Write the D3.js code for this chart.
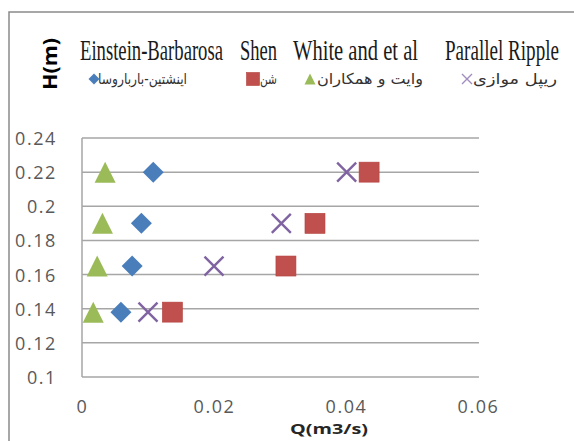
<!DOCTYPE html>
<html><head><meta charset="utf-8">
<script src="https://cdn.jsdelivr.net/npm/d3@7/dist/d3.min.js"></script>
<style>html,body{margin:0;padding:0;background:#fff;overflow:hidden}</style>
</head><body><svg id="c" width="574" height="441"></svg>
<script>
const H = [0.22, 0.19, 0.165, 0.138];
const einstein = [0.0108, 0.0090, 0.0076, 0.0059];
const shen = [0.0435, 0.0353, 0.0309, 0.0137];
const white = [0.0035, 0.0031, 0.0023, 0.0017];
const parallel = [0.0401, 0.0302, 0.0200, 0.0100];
const yTicks = [0.1, 0.12, 0.14, 0.16, 0.18, 0.2, 0.22, 0.24];
const yTickLabels = ["0.1", "0.12", "0.14", "0.16", "0.18", "0.2", "0.22", "0.24"];
const xTicks = [0, 0.02, 0.04, 0.06];
const xTickLabels = ["0", "0.02", "0.04", "0.06"];
const seriesNames = ["Einstein-Barbarosa", "Shen", "White and et al", "Parallel Ripple"];
const seriesNamesFa = ["اینشتین-بارباروسا", "شن", "وایت و همکاران", "ریپل موازی"];

const svg = d3.select("#c");
const x = d3.scaleLinear().domain([0, 0.06]).range([82, 478]);
const y = d3.scaleLinear().domain([0.1, 0.24]).range([377, 138]);

// outer border
svg.append("rect").attr("x", 9).attr("y", 12).attr("width", 620).attr("height", 500)
  .attr("fill", "none").attr("stroke", "#8a8a8a").attr("stroke-width", 1.5);

// gridlines
svg.append("g").selectAll("line").data(yTicks).join("line")
  .attr("x1", 82).attr("x2", 479).attr("y1", d => y(d)).attr("y2", d => y(d))
  .attr("stroke", "#a6a6a6").attr("stroke-width", 1.5);
svg.append("line").attr("x1", 82).attr("x2", 82).attr("y1", y(0.24)).attr("y2", y(0.1))
  .attr("stroke", "#a6a6a6").attr("stroke-width", 1.5);

// axes
const tickFont = "'Open Sans', sans-serif";
const gy = svg.append("g").attr("transform", "translate(57,0)")
  .call(d3.axisLeft(y).tickValues(yTicks).tickSize(0).tickPadding(0)
    .tickFormat((d, i) => yTickLabels[i]));
gy.select(".domain").remove();
gy.selectAll("text").attr("font-family", tickFont).attr("font-size", 18)
  .attr("fill", "#595959").attr("letter-spacing", 1.6).attr("dy", "0.36em");

const gx = svg.append("g").attr("transform", "translate(0,377)")
  .call(d3.axisBottom(x).tickValues(xTicks).tickSize(0).tickPadding(0)
    .tickFormat((d, i) => xTickLabels[i]));
gx.select(".domain").remove();
gx.selectAll("text").attr("font-family", tickFont).attr("font-size", 18)
  .attr("fill", "#595959").attr("letter-spacing", 1.6).attr("dy", 0).attr("y", 36);

// axis titles
svg.append("text").attr("x", 329).attr("y", 434).attr("text-anchor", "middle")
  .attr("font-family", tickFont).attr("font-weight", "bold").attr("font-size", 15)
  .attr("fill", "#262626").attr("textLength", 78).attr("lengthAdjust", "spacingAndGlyphs")
  .text("Q(m3/s)");
svg.append("text").attr("transform", "translate(57,64) rotate(-90)").attr("text-anchor", "middle")
  .attr("font-family", tickFont).attr("font-weight", "bold").attr("font-size", 19)
  .attr("fill", "#000").attr("textLength", 52).attr("lengthAdjust", "spacingAndGlyphs")
  .text("H(m)");

// marker shapes
const blue = "#4a7ebb", red = "#c0504d", green = "#9bbb59", purple = "#8064a2";
function diamond(g, cx, cy, s, col) {
  g.append("path").attr("d", `M${cx},${cy - s}L${cx + s},${cy}L${cx},${cy + s}L${cx - s},${cy}Z`).attr("fill", col);
}
function square(g, cx, cy, s, col) {
  g.append("rect").attr("x", cx - s).attr("y", cy - s).attr("width", 2 * s).attr("height", 2 * s)
    .attr("fill", col).attr("stroke", "#b4403d").attr("stroke-width", 0.6);
}
function triangle(g, cx, cy, s, col) {
  g.append("path").attr("d", `M${cx},${cy - s}L${cx + s},${cy + s}L${cx - s},${cy + s}Z`).attr("fill", col);
}
function cross(g, cx, cy, s, col, w) {
  g.append("path").attr("d", `M${cx - s},${cy - s}L${cx + s},${cy + s}M${cx - s},${cy + s}L${cx + s},${cy - s}`)
    .attr("stroke", col).attr("stroke-width", w).attr("fill", "none");
}

const pts = svg.append("g");
H.forEach((h, i) => diamond(pts, x(einstein[i]), y(h), 10.5, blue));
H.forEach((h, i) => square(pts, x(shen[i]), y(h), 10, red));
H.forEach((h, i) => triangle(pts, x(white[i]), y(h), 10.5, green));
H.forEach((h, i) => cross(pts, x(parallel[i]), y(h), 9.5, purple, 2.4));

// legend
const engX = [80, 240, 293, 445], engW = [143, 37, 125, 114];
const faX = [98, 260, 317, 473], faW = [89, 17, 106, 84];
const mkX = [94, 253, 310, 467];
const lg = svg.append("g");
seriesNames.forEach((n, i) => {
  lg.append("text").attr("transform", `translate(${engX[i]},60) scale(1,1.5)`)
    .attr("font-family", "'Liberation Serif', serif").attr("font-size", 19)
    .attr("fill", "#1a1a1a").attr("textLength", engW[i]).attr("lengthAdjust", "spacingAndGlyphs")
    .text(n);
});
seriesNamesFa.forEach((n, i) => {
  lg.append("text").attr("x", faX[i]).attr("y", 84)
    .attr("font-family", "'DejaVu Sans', sans-serif").attr("font-size", 15)
    .attr("fill", "#333").attr("textLength", faW[i]).attr("lengthAdjust", "spacingAndGlyphs")
    .text(n);
});
diamond(lg, mkX[0], 79, 5.5, blue);
square(lg, mkX[1], 79, 6.5, red);
triangle(lg, mkX[2], 79, 5.5, green);
cross(lg, mkX[3], 79, 5, "#a08cc0", 1.4);
</script></body></html>
